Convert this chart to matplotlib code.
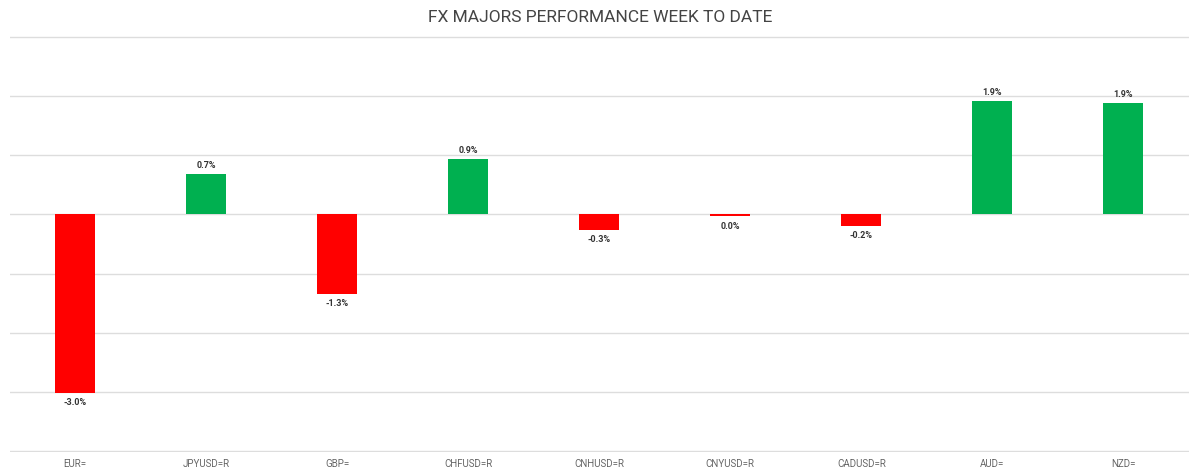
import numpy as np
import matplotlib.pyplot as plt

tickers = ["EUR=", "JPYUSD=R", "GBP=", "CHFUSD=R", "CNHUSD=R", "CNYUSD=R", "CADUSD=R", "AUD=", "NZD="]
weekly_pct = [-3.02, 0.68, -1.34, 0.93, -0.26, -0.03, -0.19, 1.92, 1.88]

plt.rcParams['font.family'] = ['Roboto', 'DejaVu Sans']

fig = plt.figure(figsize=(12, 4.75), dpi=100)
ax = fig.add_axes([9.5 / 1200, 1 - 452 / 475, 1179.5 / 1200, 416 / 475])

x = np.arange(len(tickers))
colors = ['#00B050' if v > 0 else '#FF0000' for v in weekly_pct]
ax.bar(x, weekly_pct, width=0.305, color=colors, zorder=3)

for xi, v in zip(x, weekly_pct):
  label = f"{v:.1f}%"
  if label == "-0.0%":
    label = "0.0%"
  if v >= 0:
    ax.annotate(label, (xi, v), xytext=(0, 3), textcoords='offset points',
                ha='center', va='bottom', fontsize=6.5, fontweight='bold', color='#333333')
  else:
    ax.annotate(label, (xi, v), xytext=(0, -4), textcoords='offset points',
                ha='center', va='top', fontsize=6.5, fontweight='bold', color='#333333')

ax.set_xlim(-0.5, len(tickers) - 0.5)
ax.set_ylim(-4.02, 3.02)
ax.set_yticks(np.arange(-4, 4, 1))
ax.yaxis.grid(True, color='#dddddd', linewidth=1, zorder=0)
ax.tick_params(axis='y', left=False, labelleft=False)
ax.set_xticks(x)
ax.set_xticklabels(tickers, fontsize=7, color='#666666')
ax.tick_params(axis='x', length=0, pad=5)
for s in ax.spines.values():
  s.set_visible(False)

fig.text(0.5, 1 - 17 / 475, "FX MAJORS PERFORMANCE WEEK TO DATE", ha='center', va='center',
         fontsize=12.5, color='#444444')

fig.savefig("out.png", dpi=100)
